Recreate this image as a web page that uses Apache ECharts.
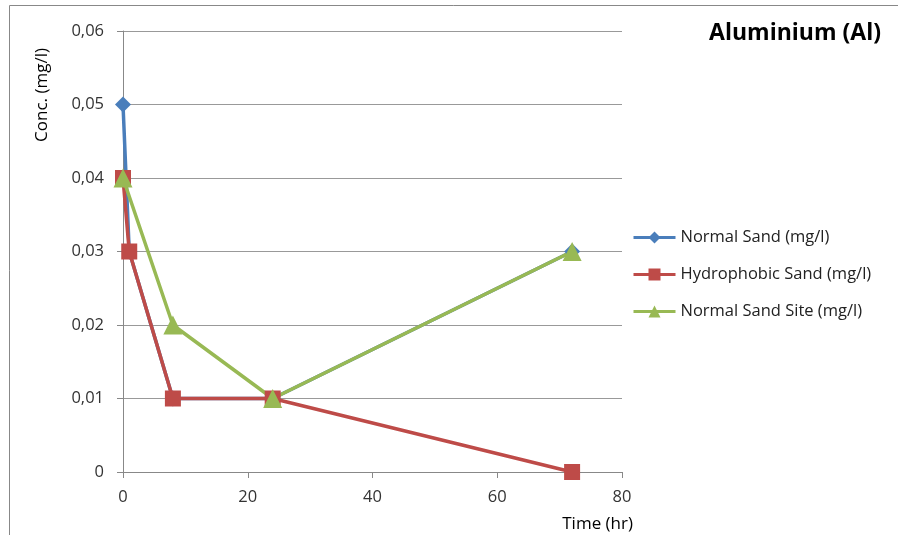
<!DOCTYPE html>
<html>
<head>
<meta charset="utf-8">
<script src="https://cdn.jsdelivr.net/npm/echarts@6/dist/echarts.min.js"></script>
<style>
  html, body { margin: 0; padding: 0; background: #fff; }
  #chart { width: 898px; height: 535px; }
</style>
</head>
<body>
<div id="chart"></div>
<script>
// data (x = hours, y = mg/l)
const normalSand = [[0, 0.05], [1, 0.03], [8, 0.01], [24, 0.01], [72, 0.03]];
const hydrophobicSand = [[0, 0.04], [1, 0.03], [8, 0.01], [24, 0.01], [72, 0]];
const normalSandSite = [[0, 0.04], [8, 0.02], [24, 0.01], [72, 0.03]];
const seriesNames = ["Normal Sand (mg/l)", "Hydrophobic Sand (mg/l)", "Normal Sand Site (mg/l)"];

const font = "'Open Sans', 'Noto Sans', sans-serif";
const chart = echarts.init(document.getElementById("chart"));

function lineSeries(name, data, color, symbol, size) {
  return {
    name: name,
    type: "line",
    data: data,
    symbol: symbol,
    symbolSize: size,
    itemStyle: { color: color },
    lineStyle: { color: color, width: 3.5 },
    animation: false,
  };
}

chart.setOption({
  textStyle: { fontFamily: font },
  grid: { left: 123, top: 31, right: 276, bottom: 63 },
  title: {
    text: "Aluminium (Al)",
    right: 12,
    top: 17,
    textStyle: { fontFamily: font, fontSize: 23, fontWeight: "bold", color: "#000" },
  },
  legend: {
    orient: "vertical",
    left: 627,
    top: 224,
    itemGap: 20,
    itemWidth: 42,
    itemHeight: 15,
    lineStyle: { width: 3 },
    textStyle: { fontFamily: font, fontSize: 16.5, color: "#222" },
    data: seriesNames,
  },
  xAxis: {
    type: "value",
    min: 0,
    max: 80,
    interval: 20,
    axisLine: { show: true, lineStyle: { color: "#888" } },
    axisTick: { show: true, length: 6, lineStyle: { color: "#888" } },
    axisLabel: { fontSize: 16.5, color: "#333", margin: 17 },
    splitLine: { show: false },
  },
  yAxis: {
    type: "value",
    min: 0,
    max: 0.06,
    interval: 0.01,
    axisLine: { show: true, lineStyle: { color: "#888" } },
    axisTick: { show: true, length: 6, inside: false, lineStyle: { color: "#888" } },
    axisLabel: {
      fontSize: 16.5,
      color: "#333",
      margin: 19,
      formatter: (v) => (v === 0 ? "0" : v.toFixed(2).replace(".", ",")),
    },
    splitLine: { show: true, lineStyle: { color: "#999" } },
  },
  graphic: [
    { type: "line", shape: { x1: 9.5, y1: 5.5, x2: 898, y2: 5.5 }, style: { stroke: "#888", lineWidth: 1 } },
    { type: "line", shape: { x1: 9.5, y1: 5.5, x2: 9.5, y2: 535 }, style: { stroke: "#888", lineWidth: 1 } },
    {
      type: "text",
      x: 42,
      y: 95,
      rotation: Math.PI / 2,
      style: { text: "Conc. (mg/l)", font: "17px " + font, fill: "#000", align: "center", verticalAlign: "middle" },
    },
    {
      type: "text",
      x: 633,
      y: 524,
      style: { text: "Time (hr)", font: "17px " + font, fill: "#000", align: "right", verticalAlign: "middle" },
    },
  ],
  series: [
    lineSeries(seriesNames[0], normalSand, "#4A7EBB", "diamond", 16),
    lineSeries(seriesNames[1], hydrophobicSand, "#BE4B48", "rect", 16),
    lineSeries(seriesNames[2], normalSandSite, "#98B954", "triangle", 19),
  ],
});
</script>
</body>
</html>
